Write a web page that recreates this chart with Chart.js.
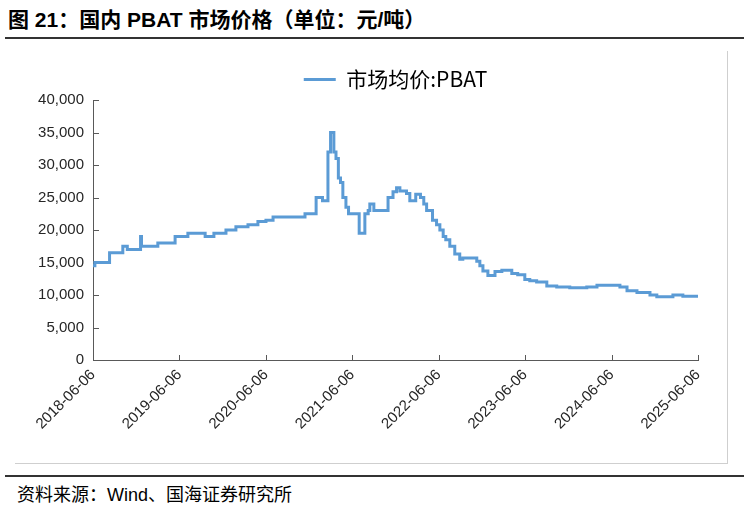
<!DOCTYPE html>
<html>
<head>
<meta charset="utf-8">
<script src="https://cdn.jsdelivr.net/npm/chart.js@4.4.0/dist/chart.umd.min.js"></script>
<style>
  body { margin: 0; width: 744px; height: 506px; background: #fff; position: relative; overflow: hidden; }
  #title { position: absolute; left: 8px; top: 3px; font-family: "Liberation Sans", "Noto Sans CJK SC", sans-serif; font-size: 21px; font-weight: bold; color: #000; white-space: nowrap; }
  .rule { position: absolute; left: 5px; right: 0; height: 2px; background: #333; }
  #frame { position: absolute; left: 15px; top: 51px; width: 712px; height: 412px; border-right: 1px solid #cfcfcf; border-bottom: 1px solid #cfcfcf; }
  #chartBox { position: absolute; left: 15px; top: 59px; width: 712px; height: 381px; }
  #source { position: absolute; left: 17px; top: 480px; font-family: "Liberation Sans", "Noto Sans CJK SC", sans-serif; font-size: 18px; color: #000; white-space: nowrap; }
</style>
</head>
<body>
<div id="title">图 21：国内 PBAT 市场价格（单位：元/吨）</div>
<div class="rule" style="top:37px"></div>
<div id="frame"></div>
<div id="chartBox"><canvas id="chart"></canvas></div>
<div class="rule" style="top:475px"></div>
<div id="source">资料来源：Wind、国海证券研究所</div>

<script>
// price steps: each value holds from its date until the next one
const dates = [
    '2018-06-06', '2018-06-14', '2018-08-15', '2018-10-10', '2018-10-29', '2018-12-24', '2018-12-28',
    '2019-03-07', '2019-05-19', '2019-07-12', '2019-09-23', '2019-10-30', '2019-12-20',
    '2020-01-31', '2020-03-22', '2020-05-03', '2020-06-06', '2020-07-06', '2020-11-18',
    '2021-01-04', '2021-01-31', '2021-02-23', '2021-03-06', '2021-03-20', '2021-03-29', '2021-04-08',
    '2021-04-17', '2021-04-27', '2021-05-10', '2021-05-21', '2021-07-05', '2021-07-29', '2021-08-12',
    '2021-08-19', '2021-09-05', '2021-11-04', '2021-11-25', '2021-12-10', '2021-12-24',
    '2022-01-21', '2022-02-04', '2022-03-01', '2022-03-21', '2022-04-04', '2022-04-16', '2022-05-11',
    '2022-05-28', '2022-06-11', '2022-06-25', '2022-07-06', '2022-07-23', '2022-08-13', '2022-09-03',
    '2022-09-16', '2022-11-14', '2022-11-27', '2022-12-10', '2022-12-31',
    '2023-01-30', '2023-02-28', '2023-04-11', '2023-05-06', '2023-06-05', '2023-06-26', '2023-07-25',
    '2023-09-06', '2023-10-18', '2023-12-12',
    '2024-02-22', '2024-04-05', '2024-07-11', '2024-08-10', '2024-09-21', '2024-11-15', '2024-12-14',
    '2025-02-20', '2025-04-03', '2025-06-06'
];
const prices = [
    14500, 15000, 16500, 17500, 17000, 19000, 17500,
    18000, 19000, 19500, 19000, 19500, 20000,
    20500, 20800, 21300, 21500, 22000, 22500,
    25000, 24500, 32000, 35000, 32000, 31000, 28000,
    27300, 25000, 23500, 22500, 19500, 22500, 23000,
    24000, 23000, 25000, 25900, 26500, 26000,
    25600, 24500, 25500, 25000, 24000, 23000, 21500,
    20800, 20000, 19000, 18500, 17500, 16300, 15500,
    15700, 15200, 14500, 13700, 13000,
    13600, 13800, 13300, 13100, 12400, 12200, 12000,
    11400, 11250, 11100,
    11250, 11500, 11250, 10650, 10400, 10000, 9750,
    10000, 9800, 9800
];
const tickDates = ['2018-06-06', '2019-06-06', '2020-06-06', '2021-06-06', '2022-06-06', '2023-06-06', '2024-06-06', '2025-06-06'];
const seriesName = '市场均价:PBAT';

const lineColor = '#5b9bd5';
const axisColor = '#595959';
const numFont = '"Liberation Sans", Arial, sans-serif';

const toMs = d => Date.parse(d + 'T00:00:00Z');
const points = dates.map((d, i) => ({ x: toMs(d), y: prices[i] }));
const tickValues = tickDates.map(toMs);

// small tick marks pointing into the plot, like the original
const inwardTicks = {
    id: 'inwardTicks',
    beforeDatasetsDraw(chart) {
        const { ctx, scales: { x, y } } = chart;
        ctx.save();
        ctx.strokeStyle = axisColor;
        ctx.lineWidth = 1;
        ctx.beginPath();
        y.ticks.forEach(t => {
            const py = Math.round(y.getPixelForValue(t.value)) + 0.5;
            ctx.moveTo(y.right, py);
            ctx.lineTo(y.right + 6, py);
        });
        x.ticks.forEach(t => {
            const px = Math.round(x.getPixelForValue(t.value)) + 0.5;
            ctx.moveTo(px, x.top);
            ctx.lineTo(px, x.top - 5);
        });
        ctx.stroke();
        ctx.restore();
    }
};

new Chart(document.getElementById('chart'), {
    type: 'line',
    data: {
        datasets: [{
            label: seriesName,
            data: points,
            borderColor: lineColor,
            backgroundColor: lineColor,
            borderWidth: 3,
            pointRadius: 0,
            stepped: true
        }]
    },
    options: {
        responsive: true,
        maintainAspectRatio: false,
        animation: false,
        layout: { padding: { right: 29 } },
        plugins: {
            legend: {
                position: 'top',
                fullSize: false,
                labels: {
                    usePointStyle: true,
                    pointStyle: 'line',
                    pointStyleWidth: 32,
                    color: '#000',
                    padding: 10,
                    font: { family: '"Noto Sans CJK SC", sans-serif', size: 21 }
                }
            },
            tooltip: { enabled: false }
        },
        scales: {
            x: {
                type: 'linear',
                min: tickValues[0],
                max: tickValues[tickValues.length - 1],
                afterBuildTicks: scale => {
                    scale.ticks = tickValues.map(v => ({ value: v }));
                },
                afterFit: scale => { scale.height = 80; },
                grid: { display: false, drawTicks: false },
                border: { color: axisColor, width: 1 },
                ticks: {
                    autoSkip: false,
                    minRotation: 45,
                    maxRotation: 45,
                    padding: 6,
                    color: '#262626',
                    font: { family: numFont, size: 15 },
                    callback: (value, index) => tickDates[index]
                }
            },
            y: {
                min: 0,
                max: 40000,
                afterFit: scale => { scale.width = 78; },
                grid: { display: false, drawTicks: false },
                border: { color: axisColor, width: 1 },
                ticks: {
                    stepSize: 5000,
                    padding: 9,
                    color: '#262626',
                    font: { family: numFont, size: 15 },
                    callback: v => v.toLocaleString('en-US')
                }
            }
        }
    },
    plugins: [inwardTicks]
});
</script>
</body>
</html>
